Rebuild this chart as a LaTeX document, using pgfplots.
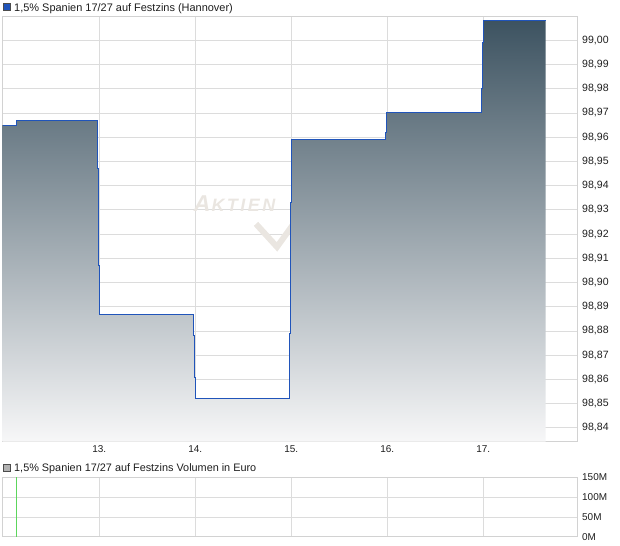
\documentclass[border=0pt]{standalone}
\usepackage{fontspec}
\setmainfont{Liberation Sans}
\usepackage{pgfplots}
\usepackage{pgfplotstable}
\pgfplotsset{compat=1.18}

\definecolor{linec}{RGB}{32,84,186}
\definecolor{gridc}{RGB}{220,220,220}
\definecolor{boxc}{RGB}{210,210,210}
\definecolor{labc}{RGB}{30,30,30}
\definecolor{topc}{RGB}{61,83,97}
\definecolor{midc}{RGB}{152,163,170}
\definecolor{botc}{RGB}{247,247,248}
\definecolor{volc}{RGB}{92,214,92}
\definecolor{wmc}{RGB}{234,230,225}

% price steps (day, price)
\pgfplotstableread{
x y
11.992 98.965
12.135 98.967
12.979 98.947
12.990 98.907
13.000 98.887
13.979 98.878
13.990 98.861
14.000 98.852
14.983 98.879
14.993 98.933
15.000 98.959
15.979 98.962
15.993 98.970
16.983 98.980
16.994 98.999
17.000 99.008
17.650 99.008
}\steps

% same steps, closed down to the bottom of the axis
\pgfplotstableread{
x y
11.992 98.965
12.135 98.967
12.979 98.947
12.990 98.907
13.000 98.887
13.979 98.878
13.990 98.861
14.000 98.852
14.983 98.879
14.993 98.933
15.000 98.959
15.979 98.962
15.993 98.970
16.983 98.980
16.994 98.999
17.000 99.008
17.650 99.008
17.650 98.8343
11.992 98.8343
}\area

\pgfplotsset{
  panel/.style={
    scale only axis, width=575bp,
    xmin=11.992, xmax=17.981,
    xtick={13,14,15,16,17},
    major tick length=0pt,
    grid=major, grid style={gridc, line width=0.8bp},
    axis line style={boxc, line width=0.8bp},
    yticklabel pos=right,
    tick label style={font=\fontsize{10}{11}\selectfont, text=labc},
    yticklabel style={anchor=west, inner sep=0pt, xshift=4.5bp},
  },
}

\begin{document}
\begin{tikzpicture}
\useasboundingbox (0bp,0bp) rectangle (620bp,-546bp);

% upper panel title
\filldraw[fill=linec, draw=black!70, line width=0.6bp] (3bp,-3.5bp) rectangle (10bp,-10.5bp);
\node[anchor=base west, inner sep=0pt, text=labc, font=\fontsize{11}{12}\selectfont] at (14bp,-11.8bp) {1,5\% Spanien 17/27 auf Festzins (Hannover)};

\begin{axis}[panel,
  at={(2.5bp,-441.7bp)}, anchor=south west, height=425.7bp,
  ymin=98.8343, ymax=99.0100,
  ytick={98.84,98.85,98.86,98.87,98.88,98.89,98.90,98.91,98.92,98.93,98.94,98.95,98.96,98.97,98.98,98.99,99.00},
  xticklabels={13.,14.,15.,16.,17.},
  xticklabel style={anchor=north, inner sep=0pt, yshift=-4bp},
  yticklabel style={font=\fontsize{10.6}{11}\selectfont, /pgf/number format/.cd, fixed, fixed zerofill, precision=2, use comma, assume math mode=true},
]
% watermark
\node[text=wmc, font=\itshape\bfseries, inner sep=0pt] at (axis cs:14.41,98.9325)
  {\fontsize{23}{23}\selectfont A\kern1bp\fontsize{18}{18}\selectfont K\kern2.5bp T\kern2.5bp I\kern2.5bp E\kern2.5bp N};
\draw[wmc, line width=6bp, line join=miter] (axis cs:14.632,98.9242) -- (axis cs:14.851,98.9147) -- (axis cs:15.091,98.9279);

\addplot[const plot, draw=none, top color=topc, middle color=midc, bottom color=botc] table {\area};
\addplot[const plot, draw=linec, line width=1bp, no marks] table {\steps};
\end{axis}

% lower panel title
\filldraw[fill=black!30, draw=black!70, line width=0.6bp] (3bp,-464.5bp) rectangle (10bp,-471.5bp);
\node[anchor=base west, inner sep=0pt, text=labc, font=\fontsize{10.9}{12}\selectfont] at (14bp,-471.8bp) {1,5\% Spanien 17/27 auf Festzins Volumen in Euro};

\begin{axis}[panel,
  at={(2.5bp,-536.7bp)}, anchor=south west, height=59.4bp,
  ymin=0, ymax=150,
  ytick={0,50,100,150},
  yticklabels={0M,50M,100M,150M},
  xticklabel=\empty,
]
\addplot[ycomb, draw=volc, line width=1bp, no marks] coordinates {(12.135,150)};
\end{axis}
\end{tikzpicture}
\end{document}
